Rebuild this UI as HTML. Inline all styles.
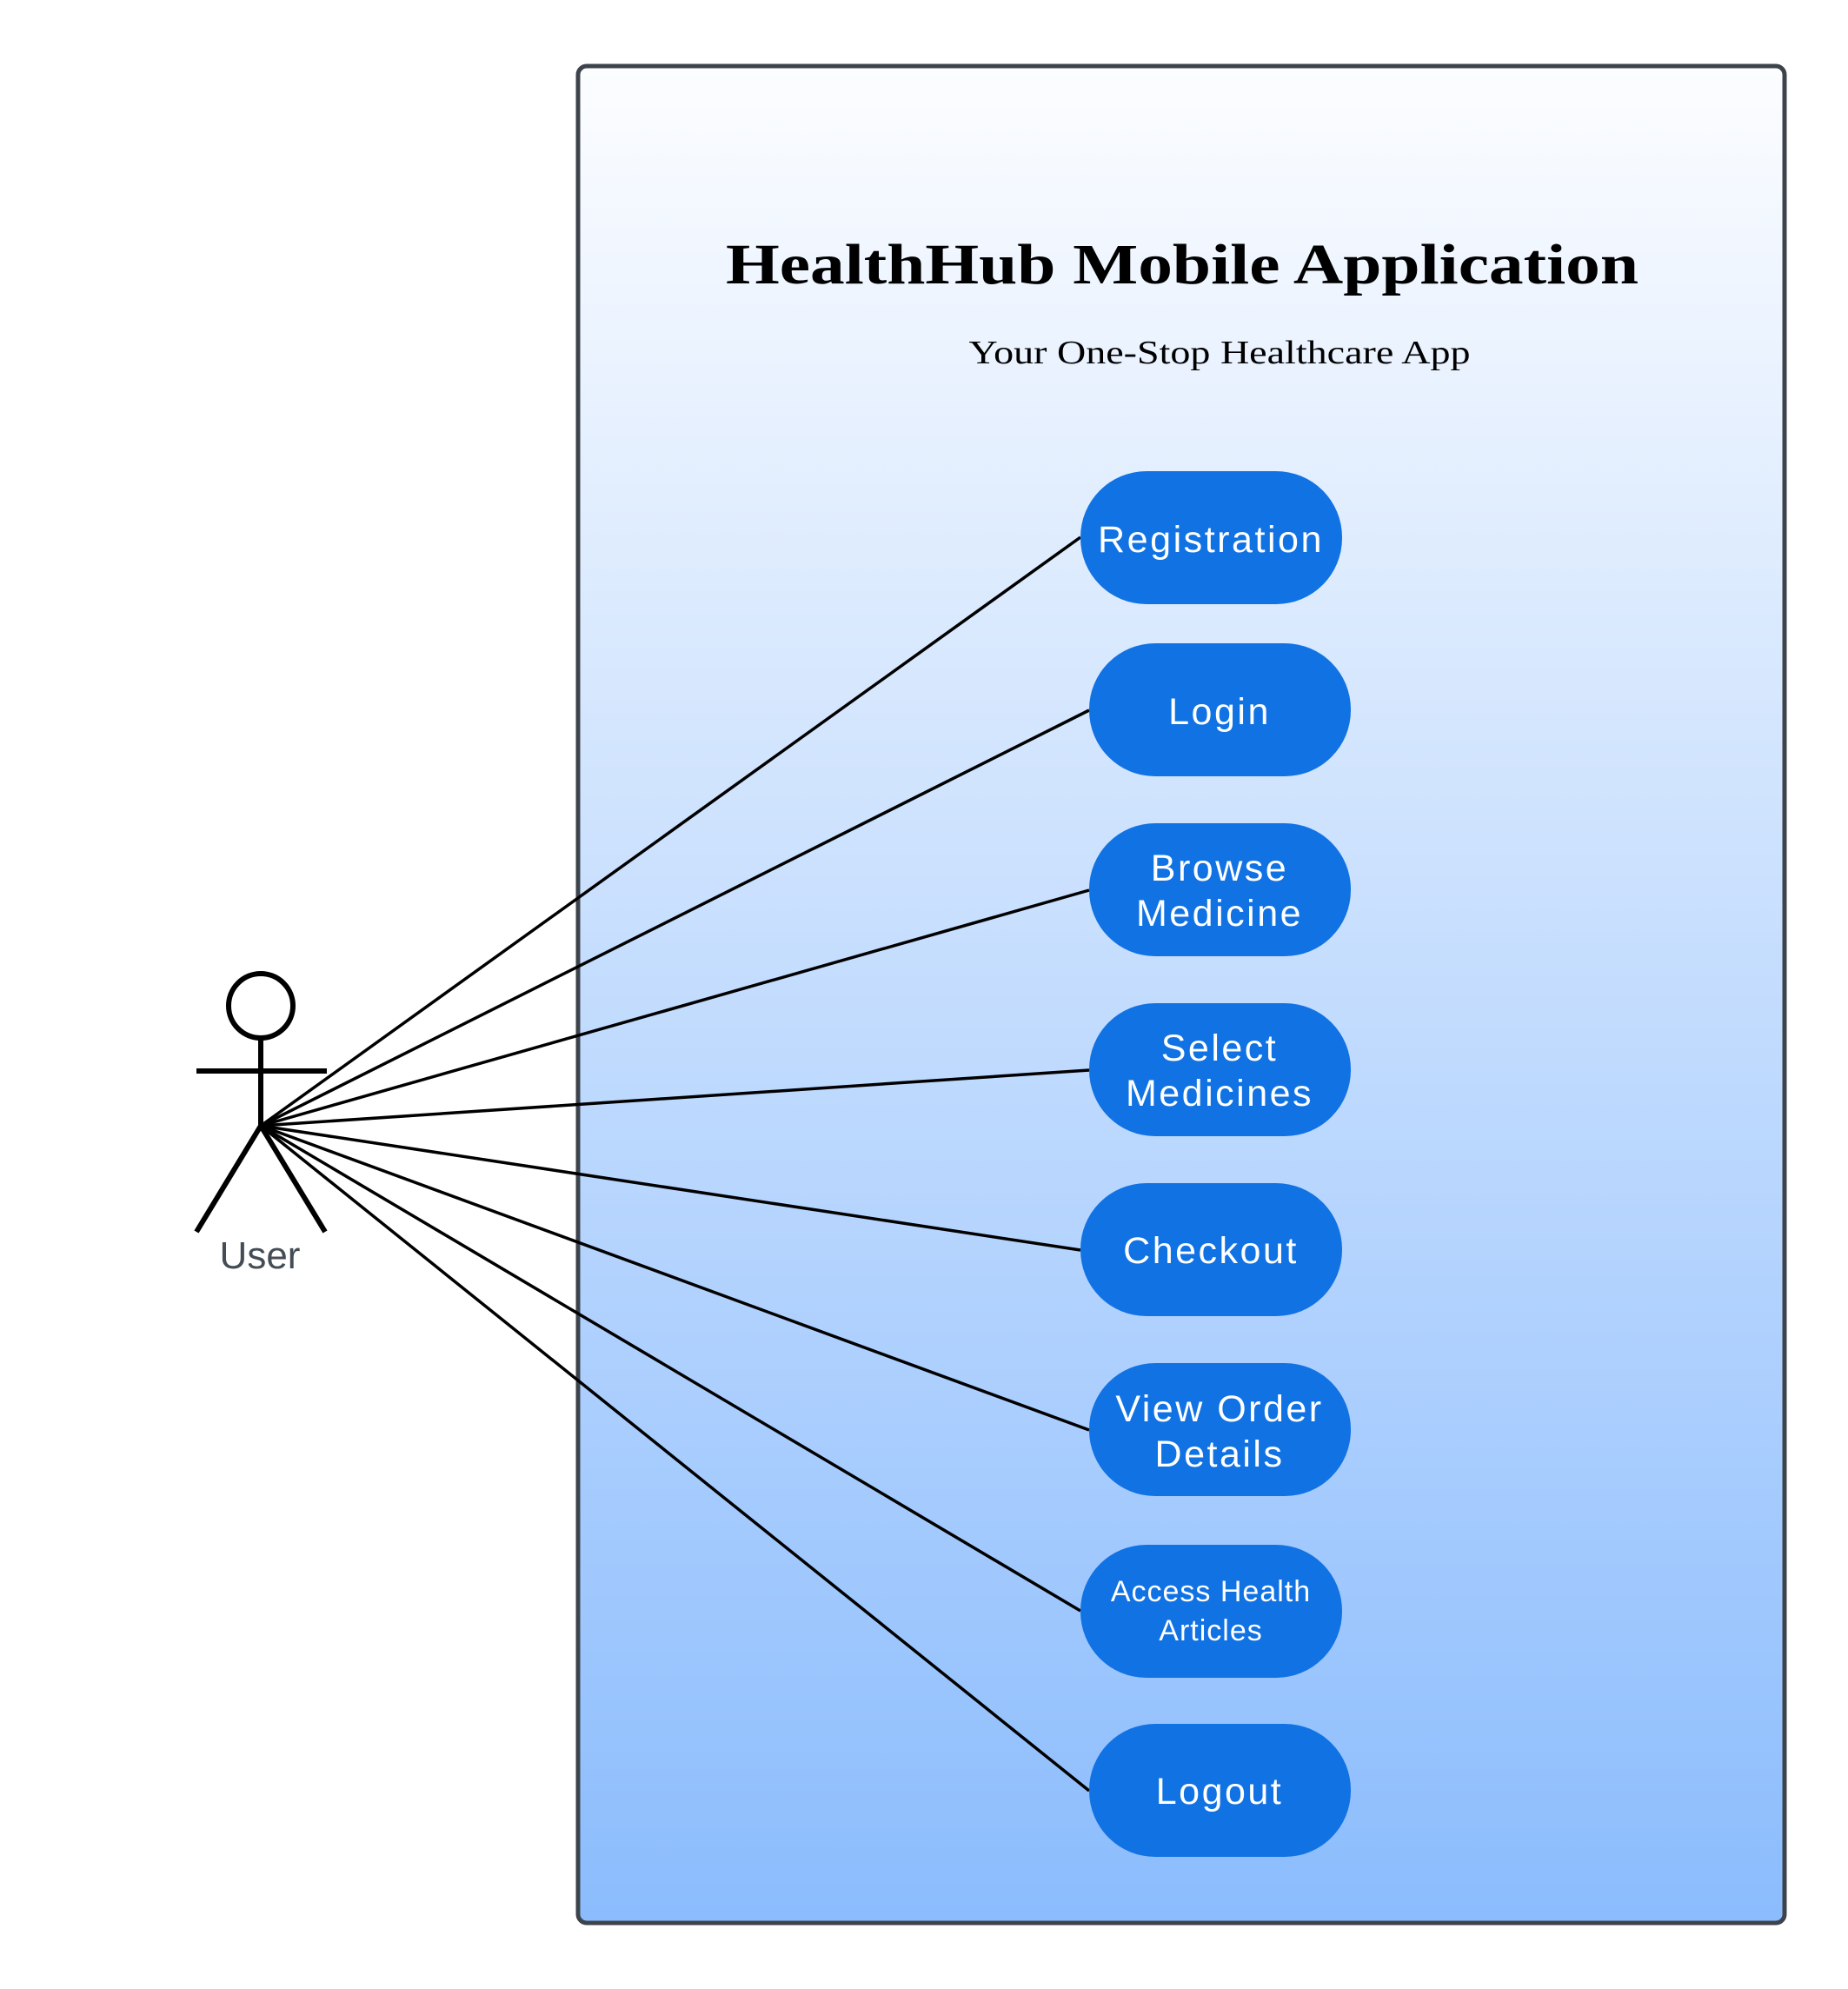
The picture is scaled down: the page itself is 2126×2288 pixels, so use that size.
<!DOCTYPE html>
<html><head><meta charset="utf-8"><style>
html,body{margin:0;padding:0;background:#fff;}
svg{display:block;}
.p{fill:#1172e4;}
.t{fill:#fff;font-family:"Liberation Sans",sans-serif;font-size:43px;text-anchor:middle;letter-spacing:2.5px;}
.l{stroke:#000;stroke-width:3.5;}
</style></head><body>
<svg width="2126" height="2288" viewBox="0 0 2126 2288" xmlns="http://www.w3.org/2000/svg">
<defs><linearGradient id="g" x1="0" y1="0" x2="0" y2="1">
<stop offset="0" stop-color="#fcfdff"/><stop offset="1" stop-color="#8bbcfd"/></linearGradient></defs>
<rect x="665" y="76" width="1388" height="2136" rx="10" fill="url(#g)" stroke="#3d434b" stroke-width="5"/>
<text x="1360" y="326" font-family="'Liberation Serif',serif" font-weight="bold" font-size="66" text-anchor="middle" textLength="1050" lengthAdjust="spacingAndGlyphs">HealthHub Mobile Application</text>
<text x="1403" y="418" font-family="'Liberation Serif',serif" font-size="38" text-anchor="middle" textLength="577" lengthAdjust="spacingAndGlyphs">Your One-Stop Healthcare App</text>
<g class="l">
<line x1="300" y1="1295" x2="1243" y2="618"/>
<line x1="300" y1="1295" x2="1253" y2="817"/>
<line x1="300" y1="1295" x2="1253" y2="1024"/>
<line x1="300" y1="1295" x2="1253" y2="1231"/>
<line x1="300" y1="1295" x2="1243" y2="1438"/>
<line x1="300" y1="1295" x2="1253" y2="1645"/>
<line x1="300" y1="1295" x2="1243" y2="1853"/>
<line x1="300" y1="1295" x2="1253" y2="2060"/>
</g>
<g fill="none" stroke="#000" stroke-width="6">
<circle cx="300" cy="1157" r="37"/>
<line x1="300" y1="1194" x2="300" y2="1295"/>
<line x1="226" y1="1232" x2="376" y2="1232"/>
<line x1="300" y1="1295" x2="226" y2="1417"/>
<line x1="300" y1="1295" x2="374" y2="1417"/>
</g>
<text x="299" y="1459" font-family="'Liberation Sans',sans-serif" font-size="44" fill="#444c55" text-anchor="middle">User</text>
<rect class="p" x="1243" y="542" width="301" height="153" rx="76"/>
<rect class="p" x="1253" y="740" width="301" height="153" rx="76"/>
<rect class="p" x="1253" y="947" width="301" height="153" rx="76"/>
<rect class="p" x="1253" y="1154" width="301" height="153" rx="76"/>
<rect class="p" x="1243" y="1361" width="301" height="153" rx="76"/>
<rect class="p" x="1253" y="1568" width="301" height="153" rx="76"/>
<rect class="p" x="1243" y="1777" width="301" height="153" rx="76"/>
<rect class="p" x="1253" y="1983" width="301" height="153" rx="76"/>
<text class="t" x="1393" y="635" textLength="260" lengthAdjust="spacingAndGlyphs">Registration</text>
<text class="t" x="1403" y="833">Login</text>
<text class="t" x="1403" y="1013">Browse</text>
<text class="t" x="1403" y="1065">Medicine</text>
<text class="t" x="1403" y="1220">Select</text>
<text class="t" x="1403" y="1272">Medicines</text>
<text class="t" x="1393" y="1453">Checkout</text>
<text class="t" x="1403" y="1635">View Order</text>
<text class="t" x="1403" y="1687">Details</text>
<text class="t" x="1393" y="1842" style="font-size:34px;letter-spacing:1px">Access Health</text>
<text class="t" x="1393" y="1887" style="font-size:34px;letter-spacing:1px">Articles</text>
<text class="t" x="1403" y="2075">Logout</text>
</svg>
</body></html>
